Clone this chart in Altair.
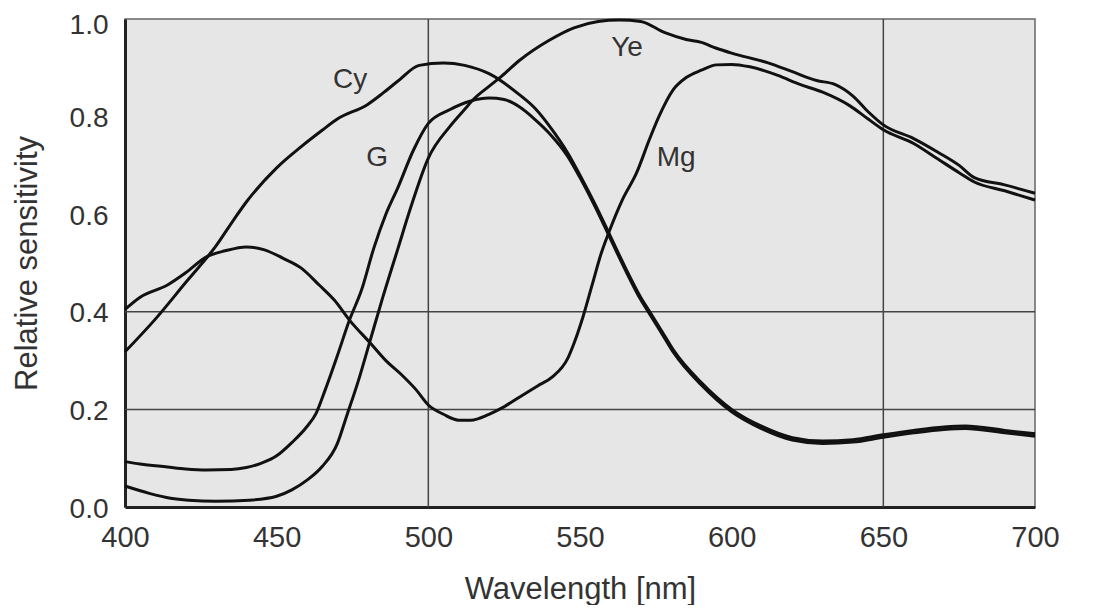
import altair as alt
import pandas as pd

# ---- data ----
cy_nm = [400, 410, 420, 430, 436, 440, 450, 458, 465, 470, 480, 485, 490, 497, 505, 512, 520, 530, 535, 540,
         546, 550, 555, 560, 565, 570, 573, 578, 581, 590, 600, 610, 620, 630, 640, 650, 660, 670, 677, 690, 700]
cy_val = [0.318, 0.385, 0.46, 0.535, 0.59, 0.625, 0.695, 0.738, 0.772, 0.795, 0.825, 0.848, 0.873, 0.905, 0.91,
          0.905, 0.888, 0.845, 0.818, 0.78, 0.725, 0.68, 0.62, 0.555, 0.49, 0.43, 0.40, 0.35, 0.32, 0.255, 0.20,
          0.165, 0.142, 0.135, 0.138, 0.148, 0.157, 0.164, 0.166, 0.157, 0.15]

g_nm = [400, 405, 414, 420, 427, 435, 440, 445, 450, 455, 460, 463, 466, 470, 474, 478, 482, 486, 490, 495, 500,
        507, 514, 520, 525, 530, 535, 540, 546, 550, 555, 560, 565, 570, 573, 578, 581, 590, 600, 610, 620, 630,
        640, 650, 660, 670, 677, 690, 700]
g_val = [0.093, 0.088, 0.082, 0.078, 0.076, 0.077, 0.081, 0.09, 0.105, 0.132, 0.165, 0.192, 0.24, 0.31, 0.383,
         0.445, 0.53, 0.60, 0.655, 0.73, 0.786, 0.814, 0.832, 0.838, 0.835, 0.82, 0.795, 0.765, 0.718, 0.675,
         0.615, 0.55, 0.485, 0.425, 0.395, 0.345, 0.315, 0.25, 0.195, 0.16, 0.137, 0.13, 0.133, 0.143, 0.152,
         0.159, 0.161, 0.152, 0.145]

ye_nm = [400, 408, 415, 421, 430, 441, 450, 455, 460, 465, 470, 473, 477, 481, 485, 490, 494, 500, 507, 512, 515,
         520, 524, 530, 540, 548, 556, 563, 570, 578, 585, 590, 595, 600, 612, 620, 628, 634, 640, 645, 650, 660,
         668, 675, 680, 690, 700]
ye_val = [0.043, 0.028, 0.018, 0.014, 0.012, 0.014, 0.022, 0.035, 0.055, 0.083, 0.13, 0.185, 0.26, 0.345, 0.43,
          0.53, 0.61, 0.715, 0.779, 0.815, 0.836, 0.862, 0.882, 0.915, 0.957, 0.982, 0.995, 0.998, 0.995, 0.972,
          0.958, 0.952, 0.94, 0.93, 0.91, 0.892, 0.874, 0.866, 0.842, 0.81, 0.783, 0.755, 0.727, 0.70, 0.675,
          0.66, 0.643]

mg_nm = [400, 405, 414, 420, 427, 433, 440, 446, 452, 458, 464, 469, 474, 481, 486, 491, 496, 500, 505, 510, 514,
         520, 524, 530, 536, 541, 546, 548, 551, 554, 557, 559.4, 564, 568.6, 573, 576, 580.7, 585, 590, 595, 600,
         606, 615, 622.5, 630, 639, 645, 650, 660, 668, 675, 680, 690, 700]
mg_val = [0.405, 0.43, 0.455, 0.48, 0.513, 0.525, 0.533, 0.527, 0.51, 0.49, 0.455, 0.424, 0.383, 0.335, 0.30,
          0.272, 0.24, 0.209, 0.19, 0.178, 0.178, 0.19, 0.202, 0.225, 0.248, 0.267, 0.305, 0.335, 0.39, 0.455,
          0.52, 0.561, 0.63, 0.684, 0.755, 0.80, 0.855, 0.88, 0.895, 0.906, 0.907, 0.902, 0.885, 0.866, 0.85,
          0.822, 0.795, 0.773, 0.745, 0.713, 0.685, 0.666, 0.648, 0.629]

label_text = ["Cy", "G", "Ye", "Mg"]
label_nm = [474.2, 483.1, 565.5, 581.7]
label_val = [0.875, 0.715, 0.94, 0.715]

x_grid = [500, 650]
y_grid = [0.2, 0.4]
x_ticks = [400, 450, 500, 550, 600, 650, 700]
y_ticks = [0.0, 0.2, 0.4, 0.6, 0.8, 1.0]

# ---- build tables ----
frames = []
for name, xs, ys in [("Cy", cy_nm, cy_val), ("G", g_nm, g_val), ("Ye", ye_nm, ye_val), ("Mg", mg_nm, mg_val)]:
    frames.append(pd.DataFrame({"nm": xs, "val": ys, "series": name}))
curves = pd.concat(frames, ignore_index=True)
labels = pd.DataFrame({"text": label_text, "nm": label_nm, "val": label_val})
xg = pd.DataFrame({"nm": x_grid})
yg = pd.DataFrame({"val": y_grid})

FONT = "Liberation Sans"
xscale = alt.Scale(domain=[400, 700], nice=False, zero=False)
yscale = alt.Scale(domain=[0, 1], nice=False)

x_axis = alt.Axis(values=x_ticks, grid=False, ticks=False, tickSize=0, labelPadding=16,
                  labelFont=FONT, labelFontSize=29, labelColor="#333",
                  title="Wavelength [nm]", titleFont=FONT, titleFontSize=31, titleFontWeight="normal",
                  titleColor="#333", titleX=455, titleY=91, titleBaseline="alphabetic", titleAlign="center",
                  domainColor="#222", domainWidth=3, labelFlush=False)
y_axis = alt.Axis(values=y_ticks, format=".1f", grid=False, ticks=False, tickSize=0, labelPadding=17,
                  labelFont=FONT, labelFontSize=28, labelColor="#333",
                  labelOffset={"condition": {"test": "datum.value >= 0.99", "value": 6}, "value": 2},
                  title="Relative sensitivity", titleFont=FONT, titleFontSize=31, titleFontWeight="normal",
                  titleColor="#333", titleX=-89, titleY=244, titleAngle=270, titleBaseline="alphabetic",
                  titleAlign="center", domainColor="#222", domainWidth=3, labelFlush=False)

vgrid = alt.Chart(xg).mark_rule(color="#444", strokeWidth=1.5).encode(
    x=alt.X("nm:Q", scale=xscale, axis=x_axis))
hgrid = alt.Chart(yg).mark_rule(color="#444", strokeWidth=1.5).encode(
    y=alt.Y("val:Q", scale=yscale, axis=y_axis))

lines = alt.Chart(curves).mark_line(color="#111", strokeWidth=3, interpolate="monotone").encode(
    x=alt.X("nm:Q", scale=xscale),
    y=alt.Y("val:Q", scale=yscale),
    detail="series:N",
)

texts = alt.Chart(labels).mark_text(font=FONT, fontSize=28, color="#333", align="center", baseline="middle").encode(
    x=alt.X("nm:Q", scale=xscale),
    y=alt.Y("val:Q", scale=yscale),
    text="text:N",
)

chart = alt.layer(vgrid, hgrid, lines, texts).properties(
    width=910, height=488,
    autosize=alt.AutoSizeParams(type="none"),
    padding={"left": 117, "top": 11, "right": 56, "bottom": 98},
    background="white",
).configure_view(fill="#e6e6e6", stroke="#666", strokeWidth=1.5)

chart.save("out.html", embed_options={"renderer": "svg", "actions": False})
